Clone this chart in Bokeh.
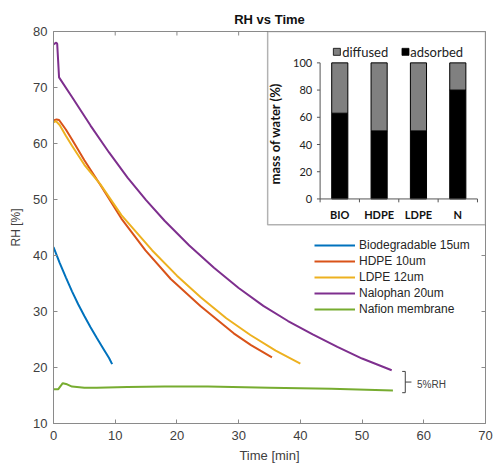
from math import pi
from bokeh.plotting import figure
from bokeh.models import Range1d, FixedTicker, Legend, LegendItem, BoxAnnotation
from bokeh.core.properties import value
from bokeh.embed import file_html
from bokeh.resources import INLINE

# ---------------- main chart data ----------------
bio_t = [0, 1, 2, 3, 4, 5, 6, 7, 8, 9, 9.5]
bio_rh = [41.5, 38.7, 36.1, 33.6, 31.3, 29.2, 27.2, 25.3, 23.5, 21.7, 20.6]

hdpe_t = [0, 0.5, 0.9, 2, 3, 5, 7.6, 11, 14.9, 19, 23.8, 29.2, 32, 35.4]
hdpe_rh = [64.1, 64.3, 64.2, 62.5, 60.7, 57.0, 52.6, 46.6, 40.9, 35.8, 31.0, 26.1, 24.0, 21.8]

ldpe_t = [0, 0.4, 1, 2, 3, 5, 7.6, 11, 16, 20, 23.8, 28, 31.9, 36, 40]
ldpe_rh = [63.8, 64.0, 63.3, 61.4, 59.6, 56.2, 52.7, 47.2, 40.9, 36.4, 32.6, 28.8, 25.8, 23.0, 20.7]

nal_t = [0, 0.45, 0.6, 0.9, 3, 6, 9, 12, 15, 18, 22, 26, 30, 34, 38, 42, 46, 50, 54.8]
nal_rh = [77.7, 78.0, 77.8, 71.8, 68.3, 63.2, 58.4, 53.9, 49.9, 46.2, 41.8, 37.8, 34.2, 31.0,
          28.3, 25.9, 23.7, 21.6, 19.5]

naf_t = [0, 0.75, 1.5, 2.2, 3, 5, 7, 12, 18, 25, 35, 45, 55]
naf_rh = [16.1, 16.1, 17.2, 17.0, 16.6, 16.4, 16.4, 16.5, 16.6, 16.6, 16.4, 16.2, 15.9]

series_names = ["Biodegradable 15um", "HDPE 10um", "LDPE 12um", "Nalophan 20um", "Nafion membrane"]
series_colors = ["#0072BD", "#D95319", "#EDB120", "#7E2F8E", "#77AC30"]

x_ticks = [0, 10, 20, 30, 40, 50, 60, 70]
y_ticks = [10, 20, 30, 40, 50, 60, 70, 80]

# ---------------- inset data ----------------
inset_cats = ["BIO", "HDPE", "LDPE", "N"]
adsorbed = [63, 50, 50, 80]
inset_y_ticks = [0, 20, 40, 60, 80, 100]

# ---------------- styles ----------------
AX = "#8a8a8a"
TXT = "#404040"
FONT = "Liberation Sans"
IFONT = "Lato"

X0, X1 = x_ticks[0], x_ticks[-1]
Y0, Y1 = y_ticks[0], y_ticks[-1]

p = figure(width=493, height=465, output_backend="svg", toolbar_location=None,
           x_range=Range1d(X0, X1), y_range=Range1d(Y0, Y1),
           min_border_left=53, min_border_right=8, min_border_top=31, min_border_bottom=0)
p.outline_line_color = AX
p.outline_line_width = 1
p.grid.visible = False
p.background_fill_color = "white"
p.border_fill_color = "white"

p.title.text = "RH vs Time"
p.title.align = "center"
p.title.text_font = FONT
p.title.text_font_size = "13px"
p.title.text_font_style = "bold"
p.title.text_color = "#111111"

for ax, ticks in ((p.xaxis[0], x_ticks), (p.yaxis[0], y_ticks)):
    ax.ticker = FixedTicker(ticks=ticks)
    ax.axis_line_color = AX
    ax.major_tick_line_color = AX
    ax.major_tick_in = 4
    ax.major_tick_out = 0
    ax.minor_tick_line_color = None
    ax.major_label_text_font = FONT
    ax.major_label_text_font_size = "13px"
    ax.major_label_text_color = TXT
    ax.axis_label_text_font = FONT
    ax.axis_label_text_font_style = "normal"
    ax.axis_label_text_color = TXT
p.xaxis[0].axis_label = "Time [min]"
p.xaxis[0].axis_label_text_font_size = "13px"
p.xaxis[0].major_label_standoff = 7
p.xaxis[0].axis_label_standoff = 5
p.yaxis[0].axis_label = "RH [%]"
p.yaxis[0].axis_label_text_font_size = "12px"
p.yaxis[0].major_label_standoff = 6
p.yaxis[0].axis_label_standoff = 7

# inward ticks on the top and right edges of the box
p.scatter(x=x_ticks, y=[Y1] * len(x_ticks), marker="dash", angle=pi / 2, size=8,
          line_color=AX, line_width=1)
p.scatter(x=[X1] * len(y_ticks), y=y_ticks, marker="dash", size=8, line_color=AX, line_width=1)

# ---------------- curves ----------------
all_t = [bio_t, hdpe_t, ldpe_t, nal_t, naf_t]
all_rh = [bio_rh, hdpe_rh, ldpe_rh, nal_rh, naf_rh]
items = []
for t, rh, name, col in zip(all_t, all_rh, series_names, series_colors):
    r = p.line(t, rh, line_color=col, line_width=2)
    items.append(LegendItem(label=name, renderers=[r]))

legend = Legend(items=items, location=(261, 106), padding=0, spacing=0, margin=0,
                glyph_width=41, glyph_height=16, label_height=16, label_standoff=4,
                border_line_color=None, background_fill_alpha=0,
                label_text_font=FONT, label_text_font_size="12px", label_text_color="#262626")
p.add_layout(legend)

# 5%RH bracket annotation (positions in data units)
br_x, br_serif, br_tick = 57.0, 56.5, 58.0
br_top, br_bot, br_mid = 19.3, 15.5, 17.4
p.segment(x0=[br_x, br_serif, br_serif, br_x], y0=[br_bot, br_top, br_bot, br_mid],
          x1=[br_x, br_x, br_x, br_tick], y1=[br_top, br_top, br_bot, br_mid],
          line_color="#404040", line_width=1)
p.text(x=[58.9], y=[16.9], text=["5%RH"], text_font=value(FONT), text_font_size="10px",
       text_color="#404040", text_baseline="middle", text_align="left")

# ---------------- inset ----------------
box = BoxAnnotation(left=34.7, right=X1, bottom=45.5, top=Y1, fill_color="white",
                    fill_alpha=1, line_color="black", line_width=1.5, level="annotation")
p.add_layout(box)

sub = p.subplot(x_source=Range1d(0, 4), y_source=Range1d(0, 100),
                x_target=Range1d(43.2, 68.7), y_target=Range1d(50.1, 74.4))

n = len(inset_cats)
cat_x = [i + 0.5 for i in range(n)]
diffused_top = [100] * n
sub.vbar(x=cat_x, width=0.41, bottom=0, top=adsorbed, fill_color="black",
         line_color="black", line_width=1, level="overlay")
sub.vbar(x=cat_x, width=0.41, bottom=adsorbed, top=diffused_top, fill_color="#808080",
         line_color="black", line_width=1, level="overlay")

# inset axes
sub.segment(x0=[0, 0], y0=[0, 0], x1=[0, n], y1=[100, 0], line_color="#555555",
            line_width=1, level="overlay")
sub.segment(x0=[-0.08] * len(inset_y_ticks), y0=inset_y_ticks, x1=[0] * len(inset_y_ticks),
            y1=inset_y_ticks, line_color="#555555", line_width=1, level="overlay")
bounds = list(range(n + 1))
sub.segment(x0=bounds, y0=[0] * len(bounds), x1=bounds, y1=[-2.5] * len(bounds),
            line_color="#555555", line_width=1, level="overlay")
sub.text(x=[-0.2] * len(inset_y_ticks), y=inset_y_ticks, text=[str(v) for v in inset_y_ticks],
         text_align="right", text_baseline="middle", text_font=value(IFONT),
         text_font_size="11px", text_color="#222222", level="overlay")
sub.text(x=cat_x, y=[-11.5] * n, text=inset_cats, text_align="center", text_baseline="middle",
         text_font=value(IFONT), text_font_size="11px", text_font_style="bold",
         text_color="#111111", level="overlay")
sub.text(x=[-1.15], y=[48], text=["mass of water (%)"], angle=pi / 2, text_align="center",
         text_baseline="middle", text_font=value(IFONT), text_font_size="13px",
         text_font_style="bold", text_color="#111111", level="overlay")

# inset legend
sub.scatter(x=[0.426, 2.17], y=[108.1, 108.1], marker="square", size=7,
            fill_color=["#808080", "black"], line_color="black", line_width=0.8, level="overlay")
sub.text(x=[0.56, 2.29], y=[108.1, 108.1], text=["diffused", "adsorbed"], text_align="left",
         text_baseline="middle", text_font=value(IFONT), text_font_size="13px",
         text_color="#222222", level="overlay")

open("out.html", "w").write(file_html(p, INLINE))
